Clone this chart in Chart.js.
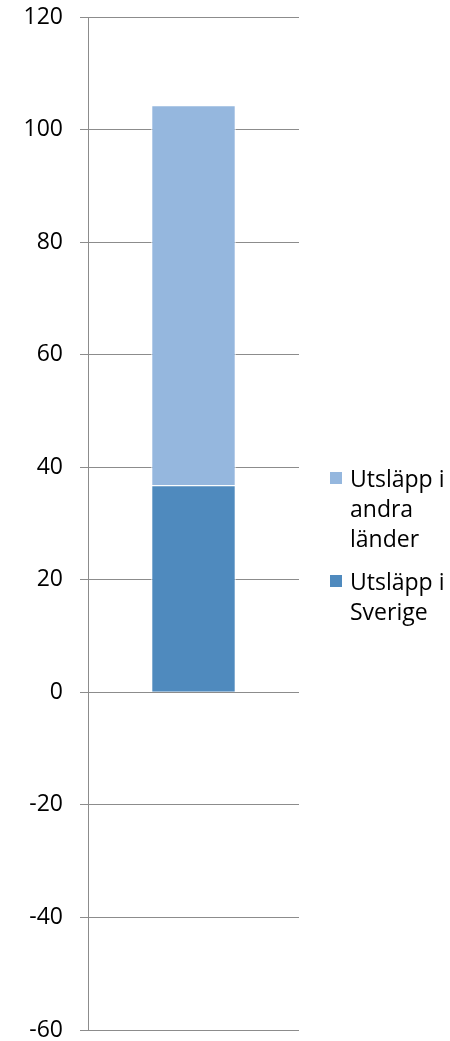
<!DOCTYPE html>
<html>
<head>
<meta charset="utf-8">
<script src="https://cdn.jsdelivr.net/npm/chart.js@4"></script>
<style>
  body { margin: 0; background: #fff; }
  #wrap { position: relative; width: 450px; height: 1041px; }
  #legend { position: absolute; left: 330px; top: 463px; width: 120px;
            font-family: 'Open Sans', sans-serif; font-size: 23px; line-height: 30px; color: #000; }
  .item { position: relative; padding-left: 20px; margin-bottom: 13px; }
  .box { position: absolute; left: 0; top: 9px; width: 12px; height: 12px; }
</style>
</head>
<body>
<div id="wrap">
  <canvas id="chart" width="450" height="1041"></canvas>
  <div id="legend"></div>
</div>
<script>
// Data
const categories = [''];
const sverige = [36.8];
const andraLander = [67.5];
const seriesNames = ['Utsläpp i Sverige', 'Utsläpp i andra länder'];
const seriesColors = ['rgb(79, 138, 190)', 'rgb(149, 183, 222)'];

const gridColor = '#8c8c8c';

new Chart(document.getElementById('chart'), {
    type: 'bar',
    data: {
        labels: categories,
        datasets: [
            {
                label: seriesNames[0],
                data: sverige,
                backgroundColor: seriesColors[0],
                borderColor: '#fff',
                borderWidth: 1,
                barPercentage: 0.8,
                categoryPercentage: 0.5
            },
            {
                label: seriesNames[1],
                data: andraLander,
                backgroundColor: seriesColors[1],
                borderColor: '#fff',
                borderWidth: 1,
                barPercentage: 0.8,
                categoryPercentage: 0.5
            }
        ]
    },
    options: {
        responsive: false,
        animation: false,
        layout: { padding: { left: 0, right: 151, top: 17, bottom: 11 } },
        plugins: {
            legend: { display: false },
            tooltip: { enabled: false }
        },
        scales: {
            x: {
                stacked: true,
                display: false
            },
            y: {
                stacked: true,
                min: -60,
                max: 120,
                ticks: {
                    stepSize: 20,
                    padding: 17,
                    color: '#000',
                    font: { family: 'Open Sans', size: 23, lineHeight: 0.1 }
                },
                grid: {
                    color: gridColor,
                    lineWidth: 1,
                    tickLength: 8
                },
                border: { display: true, color: gridColor, width: 1 },
                afterFit: function(scale) {
                    scale.width = 88;
                    scale.paddingTop = 0;
                    scale.paddingBottom = 0;
                }
            }
        }
    }
});

// Legend (top item is the upper segment)
const legend = document.getElementById('legend');
[1, 0].forEach(function(i) {
    const item = document.createElement('div');
    item.className = 'item';
    const box = document.createElement('span');
    box.className = 'box';
    box.style.background = seriesColors[i];
    item.appendChild(box);
    item.appendChild(document.createTextNode(seriesNames[i]));
    legend.appendChild(item);
});
</script>
</body>
</html>
